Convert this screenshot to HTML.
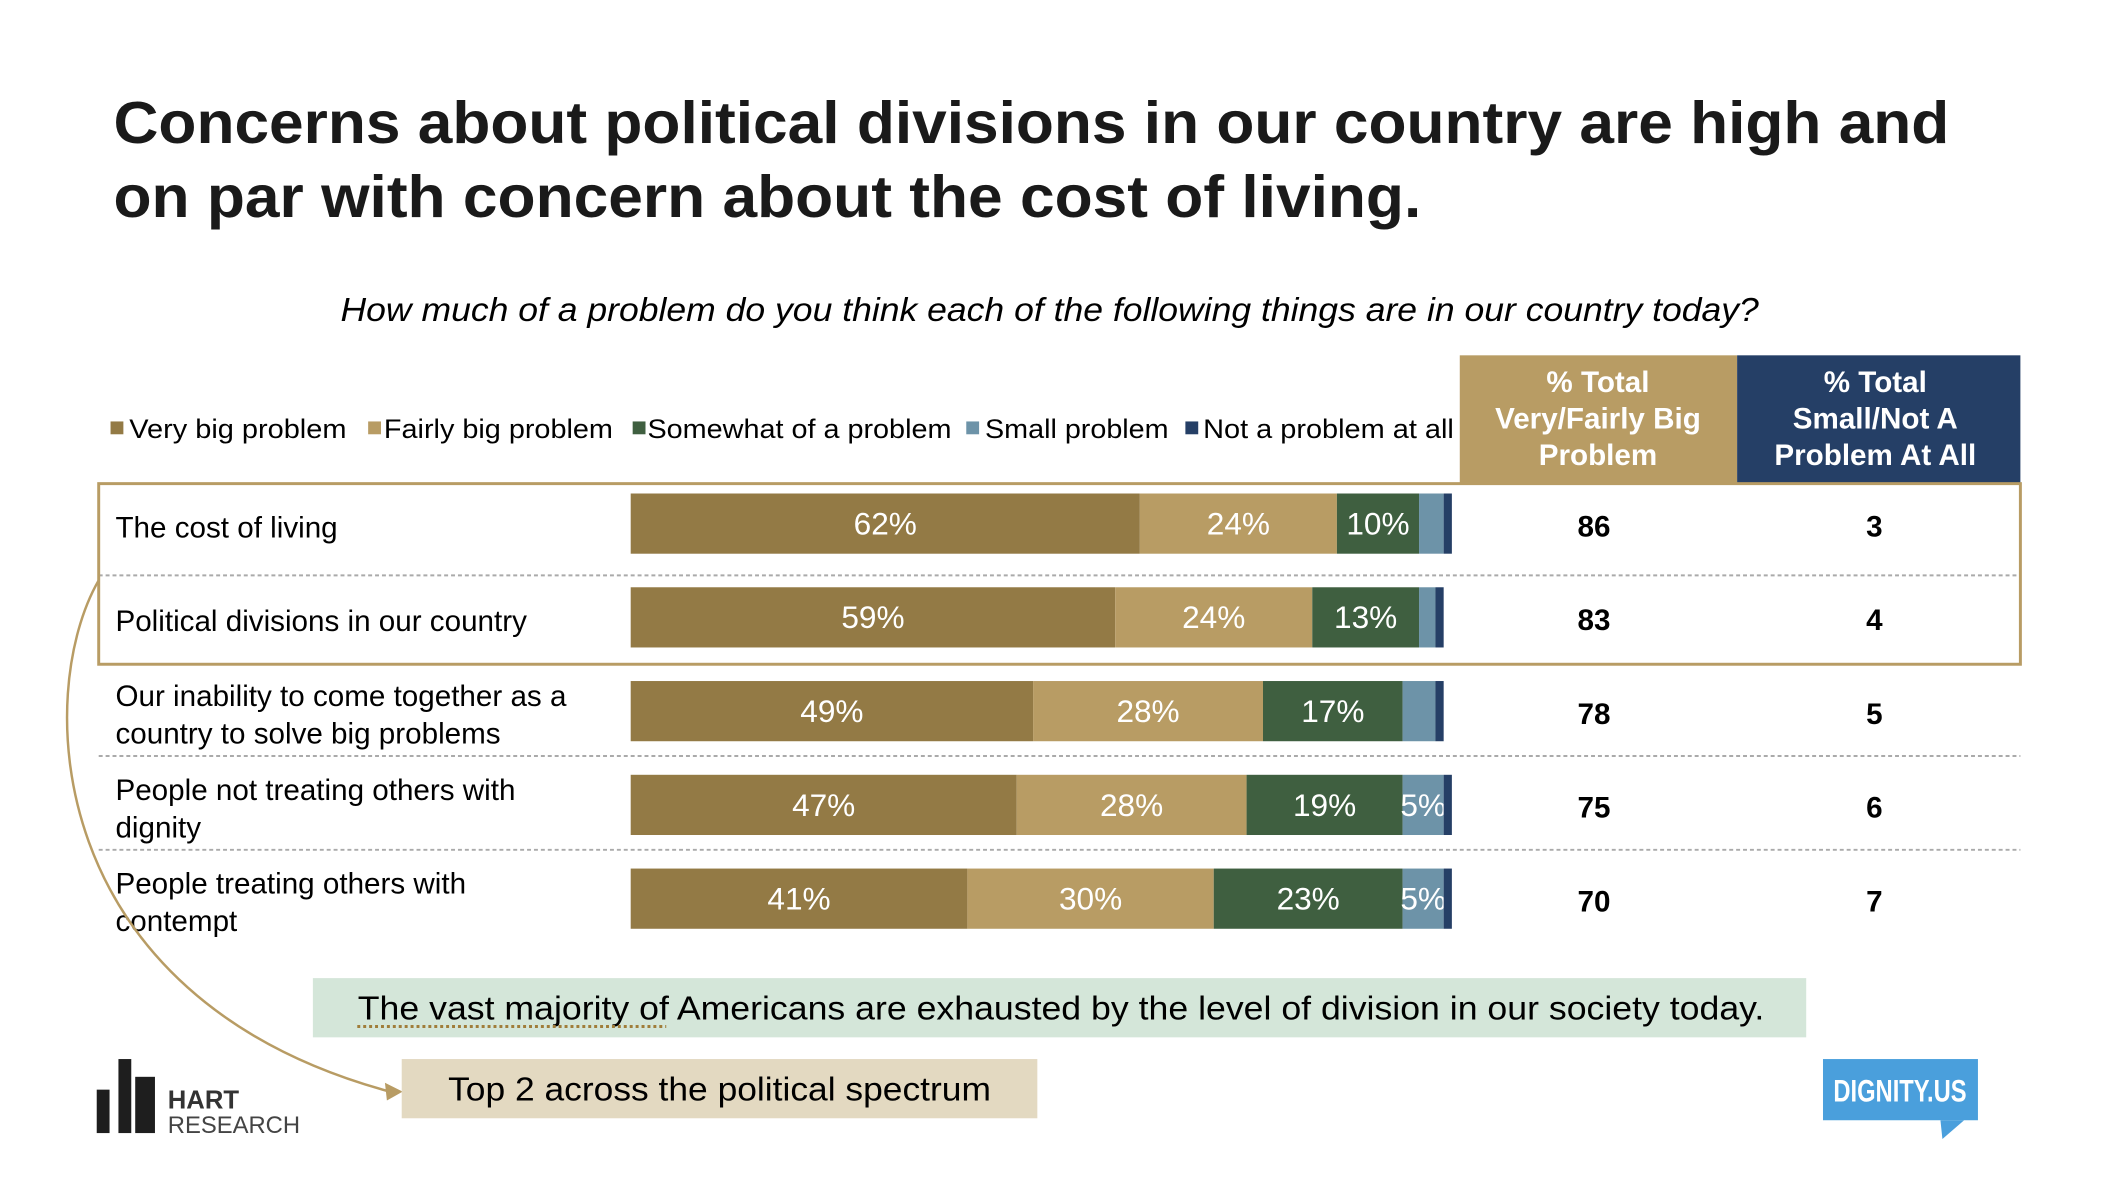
<!DOCTYPE html>
<html><head><meta charset="utf-8"><style>
html,body{margin:0;padding:0;background:#fff;}
svg{display:block;font-family:"Liberation Sans",Arial,sans-serif;}
</style></head><body>
<svg id="chart" width="2122" height="1196" viewBox="0 0 2122 1196">
<g transform="scale(0.987)">
<text x="115" y="145" font-size="60" font-weight="bold" fill="#1a1a1a" textLength="1860" lengthAdjust="spacingAndGlyphs">Concerns about political divisions in our country are high and</text>
<text x="115" y="220" font-size="60" font-weight="bold" fill="#1a1a1a" textLength="1325" lengthAdjust="spacingAndGlyphs">on par with concern about the cost of living.</text>
<text x="345" y="325" font-size="34" font-style="italic" fill="#000" textLength="1437" lengthAdjust="spacingAndGlyphs">How much of a problem do you think each of the following things are in our country today?</text>
<g>
<rect x="112" y="427" width="13" height="13" fill="#937a45"/>
<text x="131" y="444" font-size="27" fill="#000" textLength="220" lengthAdjust="spacingAndGlyphs">Very big problem</text>
<rect x="373" y="427" width="13" height="13" fill="#b89c64"/>
<text x="389" y="444" font-size="27" fill="#000" textLength="232" lengthAdjust="spacingAndGlyphs">Fairly big problem</text>
<rect x="641" y="427" width="13" height="13" fill="#3f5f40"/>
<text x="656" y="444" font-size="27" fill="#000" textLength="308" lengthAdjust="spacingAndGlyphs">Somewhat of a problem</text>
<rect x="979" y="427" width="13" height="13" fill="#6d93a8"/>
<text x="998" y="444" font-size="27" fill="#000" textLength="186" lengthAdjust="spacingAndGlyphs">Small problem</text>
<rect x="1201" y="427" width="13" height="13" fill="#253f66"/>
<text x="1219" y="444" font-size="27" fill="#000" textLength="254" lengthAdjust="spacingAndGlyphs">Not a problem at all</text>
</g>
<g>
<rect x="1479" y="360" width="281" height="129" fill="#b89c64"/>
<text x="1619" y="397" font-size="30" font-weight="bold" fill="#fff" text-anchor="middle">% Total</text>
<text x="1619" y="434" font-size="30" font-weight="bold" fill="#fff" text-anchor="middle">Very/Fairly Big</text>
<text x="1619" y="471" font-size="30" font-weight="bold" fill="#fff" text-anchor="middle">Problem</text>
</g>
<g>
<rect x="1760" y="360" width="287" height="129" fill="#253f66"/>
<text x="1900" y="397" font-size="30" font-weight="bold" fill="#fff" text-anchor="middle">% Total</text>
<text x="1900" y="434" font-size="30" font-weight="bold" fill="#fff" text-anchor="middle">Small/Not A</text>
<text x="1900" y="471" font-size="30" font-weight="bold" fill="#fff" text-anchor="middle">Problem At All</text>
</g>
<g id="rows"></g>
<rect x="100" y="490" width="1947" height="183" fill="none" stroke="#b89c64" stroke-width="3"/>
<path d="M100 588 C 35 700, 40 1010, 395 1106" fill="none" stroke="#b89c64" stroke-width="2.5"/>
<polygon points="408,1106 390,1097 392,1115" fill="#b89c64"/>
<g>
<rect x="317" y="991" width="1513" height="60" fill="#d4e6d9"/>
<text x="1075" y="1033" font-size="34" fill="#000" text-anchor="middle" textLength="1425" lengthAdjust="spacingAndGlyphs">The vast majority of Americans are exhausted by the level of division in our society today.</text>
<line x1="362" y1="1040" x2="675" y2="1040" stroke="#a07d3a" stroke-width="3" stroke-dasharray="3 3"/>
</g>
<g>
<rect x="407" y="1073" width="644" height="60" fill="#e3d9c1"/>
<text x="729" y="1115" font-size="34" fill="#000" text-anchor="middle" textLength="550" lengthAdjust="spacingAndGlyphs">Top 2 across the political spectrum</text>
</g>
<g>
<rect x="98" y="1104" width="13" height="44" fill="#1e1e1e"/>
<rect x="120" y="1073" width="13" height="75" fill="#1e1e1e"/>
<rect x="137" y="1091" width="20" height="57" fill="#1e1e1e"/>
<text x="170" y="1123" font-size="26" font-weight="bold" fill="#333">HART</text>
<text x="170" y="1148" font-size="24" fill="#444" textLength="134" lengthAdjust="spacingAndGlyphs">RESEARCH</text>
</g>
<g>
<rect x="1847" y="1073" width="157" height="62" fill="#4a9fdc"/>
<polygon points="1966,1135 1990,1135 1968,1154" fill="#4a9fdc"/>
<text x="1925" y="1116" font-size="32" font-weight="bold" fill="#fff" text-anchor="middle" textLength="135" lengthAdjust="spacingAndGlyphs">DIGNITY.US</text>
</g>
</g>
</svg>
<script>
const categories = [["The cost of living"],["Political divisions in our country"],["Our inability to come together as a","country to solve big problems"],["People not treating others with","dignity"],["People treating others with","contempt"]];
const veryBig = [62,59,49,47,41];
const fairlyBig = [24,24,28,28,30];
const somewhat = [10,13,17,19,23];
const small = [3,2,4,5,5];
const notAtAll = [1,1,1,1,1];
const totalBig = [86,83,78,75,70];
const totalSmall = [3,4,5,6,7];

const ns="http://www.w3.org/2000/svg";
const g=document.getElementById('rows');
const x0=639, pxPer=8.32, rowTop=500, rowPitch=95, barH=61;
const xs=v=>v*pxPer;
const ys=i=>rowTop+i*rowPitch;
const colors=["#937a45","#b89c64","#3f5f40","#6d93a8","#253f66"];
const series=[veryBig,fairlyBig,somewhat,small,notAtAll];
const sNames=["very-big","fairly-big","somewhat","small","not-at-all"];
function mk(tag,attrs){const e=document.createElementNS(ns,tag);for(const k in attrs)e.setAttribute(k,attrs[k]);return e;}
categories.forEach((lines,i)=>{
  const y=ys(i);
  if(i==1||i>=3){
    const off=(i==1?12:19);
    const ln=mk('line',{x1:100,x2:2047,y1:y-off,y2:y-off,stroke:'#aaa','stroke-width':2,'stroke-dasharray':'4 3'});
    
    
    g.appendChild(ln);
  }
  const cy=y+barH/2;
  lines.forEach((t,j)=>{
    const tx=mk('text',{x:117,y:(lines.length==1?cy+14:cy-5+j*38),'font-size':30,fill:'#000'});
    tx.textContent=t;
    
    
    g.appendChild(tx);
  });
  let acc=0;
  series.forEach((s,k)=>{
    const v=s[i];
    const r=mk('rect',{x:x0+xs(acc),y:y,width:xs(v),height:barH,fill:colors[k]});
    
    
    g.appendChild(r);
    if(k<3 || (k==3 && v>=5)){
      const t=mk('text',{x:x0+xs(acc+v/2),y:cy+11,'font-size':32,fill:'#fff','text-anchor':'middle'});
      t.textContent=v+'%';
      
      
      g.appendChild(t);
    }
    acc+=v;
  });
  const a=mk('text',{x:1615,y:cy+13,'font-size':30,'font-weight':'bold',fill:'#000','text-anchor':'middle'});
  a.textContent=totalBig[i];
  
  
  g.appendChild(a);
  const b=mk('text',{x:1899,y:cy+13,'font-size':30,'font-weight':'bold',fill:'#000','text-anchor':'middle'});
  b.textContent=totalSmall[i];
  
  
  g.appendChild(b);
});
</script>
</body></html>
